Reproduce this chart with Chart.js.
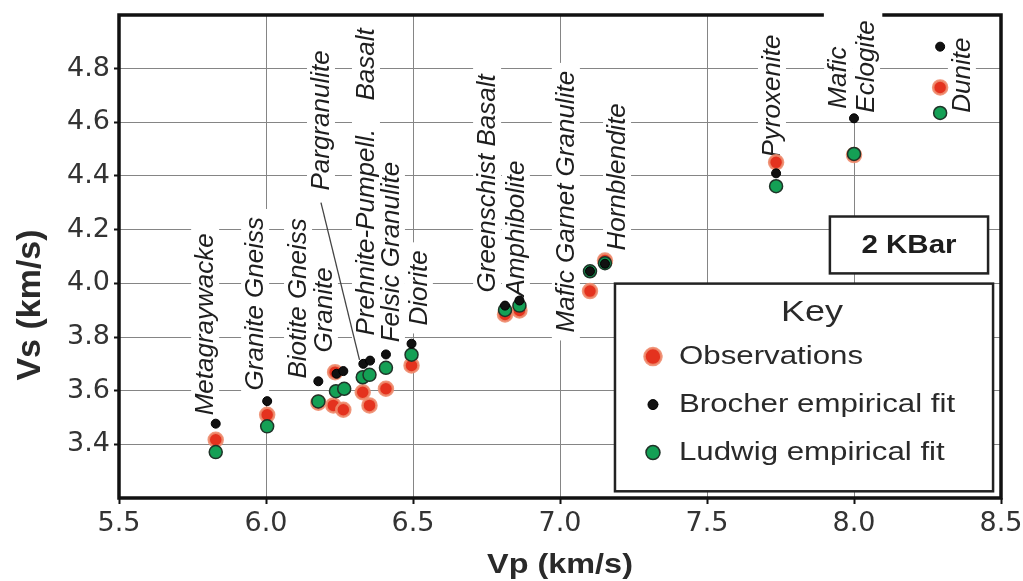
<!DOCTYPE html>
<html><head><meta charset="utf-8">
<script src="https://cdn.jsdelivr.net/npm/chart.js@4.4.1/dist/chart.umd.min.js"></script>
<style>html,body{margin:0;padding:0;background:#fff;}</style>
</head><body>
<canvas id="c" width="1023" height="581"></canvas>
<script>
// ---- data (Vp, Vs in km/s) ----
const obsVp     = [5.829, 6.004, 6.178, 6.235, 6.229, 6.263, 6.329, 6.352, 6.408, 6.495, 6.813, 6.862, 7.102, 7.153, 7.735, 8.000, 8.293];
const obsVs     = [3.417, 3.510, 3.555, 3.669, 3.545, 3.529, 3.594, 3.545, 3.607, 3.694, 3.884, 3.899, 3.971, 4.085, 4.451, 4.478, 4.730];
const brocherVp = [5.829, 6.004, 6.178, 6.240, 6.263, 6.331, 6.354, 6.408, 6.495, 6.813, 6.862, 7.102, 7.153, 7.735, 8.000, 8.293];
const brocherVs = [3.477, 3.561, 3.635, 3.663, 3.673, 3.700, 3.712, 3.735, 3.775, 3.917, 3.936, 4.045, 4.073, 4.410, 4.615, 4.882];
const ludwigVp  = [5.829, 6.004, 6.178, 6.238, 6.266, 6.329, 6.352, 6.408, 6.495, 6.813, 6.862, 7.102, 7.153, 7.735, 8.000, 8.293];
const ludwigVs  = [3.371, 3.467, 3.560, 3.598, 3.607, 3.650, 3.659, 3.685, 3.734, 3.901, 3.917, 4.045, 4.075, 4.362, 4.482, 4.635];

const rockNames = ['Metagraywacke','Granite Gneiss','Biotite Gneiss','Granite','Pargranulite','Prehnite-Pumpell.','Basalt','Felsic Granulite','Diorite','Greenschist Basalt','Amphibolite','Mafic Garnet Granulite','Hornblendite','Pyroxenite','Mafic','Eclogite','Dunite'];
const labelVp   = [5.793, 5.963, 6.109, 6.197, 6.187, 6.340, 6.340, 6.425, 6.520, 6.752, 6.850, 7.020, 7.194, 7.721, 7.946, 8.041, 8.367];
const labelVs   = [3.508, 3.601, 3.645, 3.742, 4.346, 3.806, 4.681, 3.780, 3.843, 3.966, 3.951, 3.817, 4.122, 4.469, 4.651, 4.636, 4.636];

const xTicks = [5.5, 6.0, 6.5, 7.0, 7.5, 8.0, 8.5];
const yTicks = [3.4, 3.6, 3.8, 4.0, 4.2, 4.4, 4.6, 4.8];
const legendOrder = ['Observations', 'Brocher empirical fit', 'Ludwig empirical fit'];
const pressureLabel = '2 KBar';
const keyTitle = 'Key';

const pts = (xs, ys) => xs.map((v, i) => ({x: v, y: ys[i]}));
const FONT = '"Liberation Sans", Arial, Helvetica, sans-serif';
const TICKFONT = '"DejaVu Sans", "Liberation Sans", sans-serif';

const styles = {
  obs: {backgroundColor:'#e4321e', borderColor:'rgba(238,140,110,0.9)', borderWidth:2.5, pointRadius:7},
  bro: {backgroundColor:'#111111', borderColor:'#000000', borderWidth:1, pointRadius:4.5},
  lud: {backgroundColor:'#14a055', borderColor:'#1f3328', borderWidth:1.5, pointRadius:6.5}
};

const deco = {
  id: 'deco',
  beforeDatasetsDraw(chart) {
    const {ctx, chartArea: a, scales: {x, y}} = chart;
    ctx.save();
    // rock labels: white masks first
    ctx.font = 'italic 26px ' + FONT;
    const boxes = rockNames.map((t, i) => ({
      t, px: x.getPixelForValue(labelVp[i]), py: y.getPixelForValue(labelVs[i]),
      w: ctx.measureText(t).width
    }));
    ctx.fillStyle = '#fff';
    boxes.forEach(b => ctx.fillRect(b.px - 14, b.py - b.w - 8, 28, b.w + 16));
    // leader line Pargranulite
    ctx.strokeStyle = '#444'; ctx.lineWidth = 1.3;
    ctx.beginPath();
    ctx.moveTo(x.getPixelForValue(6.187), y.getPixelForValue(4.301));
    ctx.lineTo(x.getPixelForValue(6.318), y.getPixelForValue(3.715));
    ctx.stroke();
    // border (top has gap where Mafic Eclogite label sits)
    const mafic = boxes[14], ecl = boxes[15];
    const g0 = mafic.px - 16, g1 = ecl.px + 18;
    ctx.strokeStyle = '#111'; ctx.lineWidth = 3.5; ctx.lineCap = 'square';
    ctx.beginPath();
    ctx.moveTo(g0, a.top); ctx.lineTo(a.left, a.top); ctx.lineTo(a.left, a.bottom);
    ctx.lineTo(a.right, a.bottom); ctx.lineTo(a.right, a.top); ctx.lineTo(g1, a.top);
    ctx.stroke();
    // label text
    ctx.fillStyle = '#1e1e1e';
    ctx.textAlign = 'left'; ctx.textBaseline = 'middle';
    boxes.forEach(b => {
      ctx.save(); ctx.translate(b.px, b.py); ctx.rotate(-Math.PI / 2);
      ctx.fillText(b.t, 0, 1); ctx.restore();
    });
    // 2 KBar box
    const kx0 = x.getPixelForValue(7.918), kx1 = x.getPixelForValue(8.456);
    const ky0 = y.getPixelForValue(4.249), ky1 = y.getPixelForValue(4.037);
    ctx.fillStyle = '#fff'; ctx.fillRect(kx0, ky0, kx1 - kx0, ky1 - ky0);
    ctx.strokeStyle = '#222'; ctx.lineWidth = 2.5; ctx.strokeRect(kx0, ky0, kx1 - kx0, ky1 - ky0);
    ctx.fillStyle = '#1e1e1e'; ctx.font = 'bold 25px ' + FONT;
    ctx.textAlign = 'center'; ctx.textBaseline = 'middle';
    ctx.save(); ctx.translate((kx0 + kx1) / 2, (ky0 + ky1) / 2 + 1); ctx.scale(1.18, 1);
    ctx.fillText(pressureLabel, 0, 0); ctx.restore();
    // Legend (Key)
    const lx0 = x.getPixelForValue(7.187), lx1 = x.getPixelForValue(8.473);
    const ly0 = y.getPixelForValue(3.999), ly1 = y.getPixelForValue(3.225);
    ctx.fillStyle = '#fff'; ctx.fillRect(lx0, ly0, lx1 - lx0, ly1 - ly0);
    ctx.strokeStyle = '#222'; ctx.lineWidth = 2.5; ctx.strokeRect(lx0, ly0, lx1 - lx0, ly1 - ly0);
    ctx.fillStyle = '#2a2a2a'; ctx.font = '30px ' + FONT;
    ctx.save(); ctx.translate((lx0 + lx1) / 2 + 8, ly0 + 29); ctx.scale(1.2, 1);
    ctx.fillText(keyTitle, 0, 0); ctx.restore();
    legendOrder.forEach((name, i) => {
      const ds = chart.data.datasets.find(d => d.label === name);
      const cy = ly0 + 73 + i * 48;
      const mx = lx0 + 38;
      ctx.beginPath(); ctx.arc(mx, cy, ds.pointRadius + (i === 0 ? 1.5 : 0.5), 0, Math.PI * 2);
      ctx.fillStyle = ds.backgroundColor; ctx.fill();
      ctx.lineWidth = ds.borderWidth; ctx.strokeStyle = ds.borderColor; ctx.stroke();
      ctx.fillStyle = '#2a2a2a'; ctx.font = '25px ' + FONT; ctx.textAlign = 'left';
      ctx.save(); ctx.translate(lx0 + 64, cy + 1); ctx.scale(1.25, 1);
      ctx.fillText(ds.label, 0, 0); ctx.restore();
    });
    ctx.restore();
  },
  afterDraw(chart) {
    const {ctx, chartArea: a} = chart;
    ctx.save();
    ctx.fillStyle = '#2a2a2a'; ctx.font = 'bold 27px ' + FONT;
    ctx.textAlign = 'center'; ctx.textBaseline = 'middle';
    ctx.save(); ctx.translate((a.left + a.right) / 2, 566); ctx.scale(1.2, 1);
    ctx.fillText('Vp (km/s)', 0, 0); ctx.restore();
    ctx.font = 'bold 34px ' + FONT;
    ctx.save(); ctx.translate(31, 305); ctx.rotate(-Math.PI / 2);
    ctx.fillText('Vs (km/s)', 0, 0); ctx.restore();
    ctx.restore();
  }
};

new Chart(document.getElementById('c'), {
  type: 'scatter',
  data: {
    datasets: [
      Object.assign({label: 'Brocher empirical fit', data: pts(brocherVp, brocherVs), order: 1}, styles.bro),
      Object.assign({label: 'Ludwig empirical fit', data: pts(ludwigVp, ludwigVs), order: 2}, styles.lud),
      Object.assign({label: 'Observations', data: pts(obsVp, obsVs), order: 3}, styles.obs)
    ]
  },
  options: {
    responsive: false, animation: false, devicePixelRatio: 1,
    layout: {padding: {left: 0, right: 22, top: 15, bottom: 0}},
    plugins: {legend: {display: false}, tooltip: {enabled: false}},
    scales: {
      x: {
        type: 'linear', min: 5.5, max: 8.5,
        afterBuildTicks: s => { s.ticks = xTicks.map(v => ({value: v})); },
        ticks: {callback: v => v.toFixed(1), font: {family: TICKFONT, size: 27}, color: '#333', padding: 4, maxRotation: 0},
        grid: {color: '#858585', lineWidth: 1, tickLength: 6, tickColor: '#111', tickWidth: 2},
        border: {display: false},
        afterFit: s => { s.height = 581 - 498; s.paddingRight = 0; s.paddingLeft = 0; }
      },
      y: {
        min: 3.2, max: 5.0,
        afterBuildTicks: s => { s.ticks = yTicks.map(v => ({value: v})); },
        ticks: {callback: v => v.toFixed(1), font: {family: TICKFONT, size: 27}, color: '#333', padding: 4},
        grid: {color: '#858585', lineWidth: 1, tickLength: 5, tickColor: '#111', tickWidth: 2},
        border: {display: false},
        afterFit: s => { s.width = 119; s.paddingTop = 0; s.paddingBottom = 0; }
      }
    }
  },
  plugins: [deco]
});
</script>
</body></html>
